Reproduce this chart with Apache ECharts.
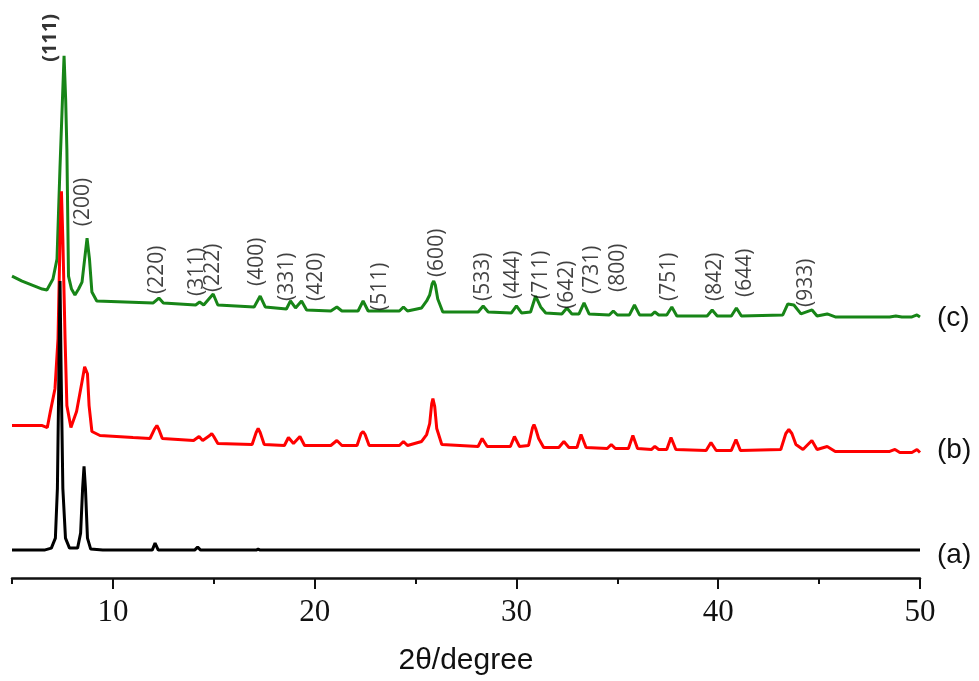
<!DOCTYPE html>
<html>
<head>
<meta charset="utf-8">
<script src="https://cdn.jsdelivr.net/npm/echarts@6/dist/echarts.min.js"></script>
<style>
html,body{margin:0;padding:0;background:#fff;}
#chart{width:979px;height:681px;}
</style>
</head>
<body>
<div id="chart"></div>
<script>
// ---- data: [2theta (deg), intensity incl. vertical offset (a.u.)] ----
var patternA = [[5,28],[6.6,28],[6.95,30],[7.15,40],[7.25,90],[7.32,200],[7.38,298],[7.44,200],[7.52,90],[7.65,40],[7.85,30],[8.25,30],[8.4,45],[8.5,90],[8.57,112],[8.64,90],[8.74,40],[8.9,29],[9.5,28],[11.95,28],[12.09,35],[12.25,28],[14.05,28],[14.2,31],[14.35,28],[17.1,28],[17.2,29],[17.3,28],[50,28]];

var patternB = [[5,153],[6.5,153],[6.75,151],[6.9,167],[7.13,190],[7.28,240],[7.38,340],[7.45,388],[7.52,340],[7.63,240],[7.72,173],[7.92,151],[8.2,167],[8.47,197],[8.6,212],[8.67,214],[8.74,205],[8.82,173],[8.96,147],[9.36,143],[11.0,141],[11.84,140],[12.05,149],[12.18,153],[12.28,149],[12.45,140],[14.0,138],[14.27,142],[14.45,138],[14.8,143],[14.9,145],[15.0,142],[15.2,135],[16.9,134],[17.1,146],[17.2,150],[17.3,146],[17.5,134],[18.5,133],[18.7,141],[18.95,135],[19.27,142],[19.5,133],[20.8,133],[21.1,138],[21.35,133],[22.1,133],[22.3,145],[22.4,147],[22.5,144],[22.7,133],[24.2,133],[24.4,137],[24.6,133],[25.3,137],[25.55,144],[25.7,155],[25.8,175],[25.86,180],[25.95,172],[26.05,150],[26.3,134],[28.1,132],[28.3,140],[28.55,132],[29.7,132],[29.9,142],[30.15,132],[30.6,133],[30.8,151],[30.87,154],[30.95,150],[31.1,140],[31.35,131],[32.1,131],[32.35,137],[32.6,131],[33.0,131],[33.2,144],[33.45,131],[34.5,130],[34.7,134],[34.9,130],[35.55,130],[35.77,143],[36.0,130],[36.7,129],[36.86,132],[37.05,129],[37.45,129],[37.66,141],[37.9,129],[39.4,128],[39.64,136],[39.9,128],[40.65,128],[40.88,139],[41.1,128],[43.1,129],[43.35,145],[43.5,149],[43.65,145],[43.85,134],[44.2,129],[44.64,138],[44.9,129],[45.4,132],[45.8,127],[48.5,127],[48.76,129],[49.0,126],[49.6,126],[49.85,129],[50,126]];

var patternC = [[5,303],[5.5,298],[6.0,294],[6.5,290],[6.73,289],[7.03,300],[7.23,320],[7.38,413],[7.5,480],[7.58,524],[7.66,480],[7.72,430],[7.8,303],[7.95,290],[8.12,284],[8.3,290],[8.47,297],[8.6,320],[8.72,341],[8.84,320],[8.96,287],[9.2,278],[12.0,276],[12.28,281],[12.5,276],[14.1,274],[14.3,277],[14.5,274],[14.97,285],[15.2,274],[17.0,272],[17.3,283],[17.55,272],[18.6,270],[18.8,278],[19.05,271],[19.35,278],[19.6,269],[20.8,268],[21.1,272],[21.35,268],[22.15,268],[22.4,278],[22.65,268],[24.2,268],[24.4,272],[24.6,268],[25.3,271],[25.55,278],[25.7,284],[25.82,295],[25.9,298],[25.98,294],[26.1,280],[26.35,267],[28.1,267],[28.35,273],[28.6,267],[29.75,266],[30.0,273],[30.25,266],[30.7,267],[30.95,283],[31.2,272],[31.45,266],[32.25,265],[32.5,271],[32.75,265],[33.1,265],[33.35,276],[33.6,265],[34.6,264],[34.8,268],[35.0,264],[35.6,264],[35.85,274],[36.1,264],[36.7,264],[36.86,267],[37.05,264],[37.45,264],[37.7,272],[37.95,263],[39.45,263],[39.7,269],[39.95,263],[40.65,263],[40.9,271],[41.15,263],[43.2,264],[43.45,275],[43.75,274],[44.1,265],[44.65,269],[44.9,263],[45.4,265],[45.8,262],[48.5,262],[48.8,263],[49.1,262],[49.6,262],[49.85,264],[50,262]];

var sampleNames = ['(a)', '(b)', '(c)'];

// Miller-index annotations: label, 2theta, intensity of label foot
var hklNames  = ['(111)','(200)','(220)','(311)','(222)','(400)','(331)','(420)','(511)','(600)','(533)','(444)','(711)','(642)','(731)','(800)','(751)','(842)','(644)','(933)'];
var hklTheta  = [6.88, 8.52, 12.19, 14.17, 14.96, 17.14, 18.63, 20.06, 23.24, 26.06, 28.34, 29.83, 31.21, 32.5, 33.74, 35.03, 37.56, 39.84, 41.32, 44.35];
var hklHeight = [518, 353, 285, 283, 287, 293, 278, 278, 268, 302, 278, 280, 280, 270, 285, 287, 278, 278, 282, 272];

var majorTicks = [10, 20, 30, 40, 50];
var minorTicks = [5, 15, 25, 35, 45];

var chart = echarts.init(document.getElementById('chart'), null, {renderer: 'canvas'});

var hklData = hklNames.map(function (n, i) {
  return {
    value: [hklTheta[i], hklHeight[i]],
    name: n,
    label: i === 0 ? {fontWeight: 'bold', color: '#000', fontSize: 20} : {}
  };
});

function endLbl(text, dy) {
  return {
    show: true,
    formatter: text,
    distance: 17,
    offset: [0, dy],
    fontFamily: 'Liberation Sans',
    fontSize: 28,
    color: '#111'
  };
}

var option = {
  animation: false,
  backgroundColor: '#ffffff',
  grid: {left: 12, right: 59, top: 20, bottom: 101},
  xAxis: [{
    type: 'value',
    min: 5, max: 50,
    name: '2θ/degree',
    nameLocation: 'middle',
    nameGap: 68,
    nameTextStyle: {fontFamily: 'Liberation Sans', fontSize: 30, color: '#111'},
    axisLine: {show: true, onZero: false, lineStyle: {color: '#111', width: 2.5}},
    axisTick: {show: true, customValues: majorTicks, length: 11, lineStyle: {color: '#111', width: 2}},
    axisLabel: {show: true, customValues: majorTicks, margin: 19, fontFamily: 'Liberation Serif', fontSize: 31, color: '#111'},
    splitLine: {show: false}
  }, {
    type: 'value',
    min: 5, max: 50,
    position: 'bottom',
    axisLine: {show: false, onZero: false},
    axisTick: {show: true, customValues: minorTicks, length: 6, lineStyle: {color: '#111', width: 2}},
    axisLabel: {show: false},
    splitLine: {show: false}
  }],
  yAxis: {type: 'value', min: 0, max: 560, show: false},
  series: [{
    type: 'line', name: sampleNames[2], data: patternC, showSymbol: false, symbol: 'none',
    lineStyle: {color: '#178517', width: 3}, endLabel: endLbl(sampleNames[2], 1)
  }, {
    type: 'line', name: sampleNames[1], data: patternB, showSymbol: false, symbol: 'none',
    lineStyle: {color: '#ff0000', width: 3}, endLabel: endLbl(sampleNames[1], -2)
  }, {
    type: 'line', name: sampleNames[0], data: patternA, showSymbol: false, symbol: 'none',
    lineStyle: {color: '#000000', width: 3}, endLabel: endLbl(sampleNames[0], 5)
  }, {
    type: 'scatter', data: hklData, symbolSize: 0, silent: true, z: 5,
    label: {
      show: true,
      formatter: function (p) { return p.name; },
      position: 'inside',
      align: 'left',
      verticalAlign: 'middle',
      rotate: 90,
      fontFamily: 'Open Sans',
      fontSize: 21,
      color: '#111'
    }
  }]
};
chart.setOption(option);
</script>
</body>
</html>
